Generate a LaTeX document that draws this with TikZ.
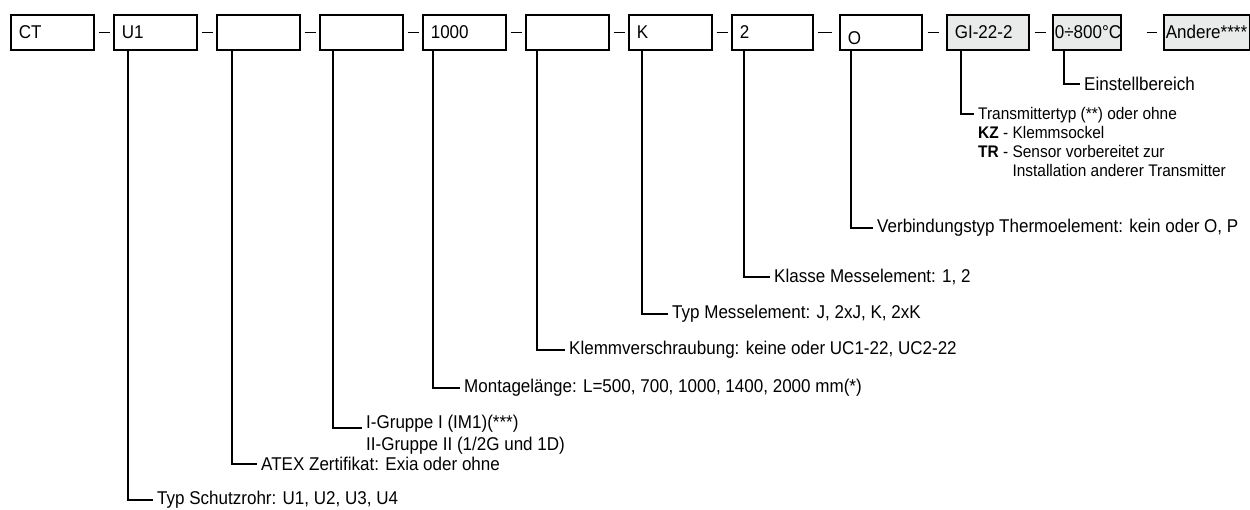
\documentclass[tikz,border=0pt]{standalone}
\usepackage{fontspec}
\setmainfont{Liberation Sans}[FakeStretch=0.92]
\usepackage{xcolor}
\usepackage{tikz}
\usetikzlibrary{positioning}
\definecolor{boxgrey}{RGB}{233,235,234}

\begin{document}
\begin{tikzpicture}[x=1pt,y=-1pt,
    codebox/.style={draw, line width=1.6pt, anchor=north west, minimum height=35pt, text width=67pt, inner xsep=8pt, inner ysep=0pt, align=left, font=\fontsize{18.5}{20}\selectfont},
    greybox/.style={codebox, fill=boxgrey},
    lbl/.style={anchor=west, inner xsep=4pt, inner ysep=1pt, align=left, font=\fontsize{18.5}{22}\selectfont},
    smalllbl/.style={lbl, font=\fontsize{16.8}{19}\selectfont},
    lead/.style={line width=1.6pt}]
      \useasboundingbox (0,0) rectangle (1250,509);
      \node[codebox] (ct) at (10,14) {CT};
      \node[codebox] (u1) at (113,14) {U1};
      \node[codebox] (atex) at (216,14) {};
      \node[codebox] (gruppe) at (319,14) {};
      \node[codebox] (laenge) at (422,14) {1000};
      \node[codebox] (klemm) at (525,14) {};
      \node[codebox] (typ) at (628,14) {K};
      \node[codebox, text width=65pt] (klasse) at (731,14) {2};
      \node[codebox, text width=66pt] (verb) at (839,14) {\rule{0pt}{12pt}\smash{\raisebox{-6pt}{O}}};
      \node[greybox, text width=66pt] (trans) at (946,14) {GI-22-2};
      \node[greybox, text width=64pt, inner xsep=2pt] (bereich) at (1052,14) {0÷800°C};
      \node[greybox, text width=82pt, inner xsep=2pt] (andere) at (1163,14) {Andere****};
      \draw[lead, shorten <=4pt, shorten >=3pt] (ct) -- (u1);
      \draw[lead, shorten <=4pt, shorten >=3pt] (u1) -- (atex);
      \draw[lead, shorten <=4pt, shorten >=3pt] (atex) -- (gruppe);
      \draw[lead, shorten <=4pt, shorten >=3pt] (gruppe) -- (laenge);
      \draw[lead, shorten <=4pt, shorten >=3pt] (laenge) -- (klemm);
      \draw[lead, shorten <=4pt, shorten >=3pt] (klemm) -- (typ);
      \draw[lead, shorten <=4pt, shorten >=3pt] (typ) -- (klasse);
      \draw[lead, shorten <=4pt, shorten >=7pt] (klasse) -- (verb);
      \draw[lead, shorten <=5pt, shorten >=7pt] (verb) -- (trans);
      \draw[lead, shorten <=5pt, shorten >=6pt] (trans) -- (bereich);
      \draw[lead, shorten <=25pt, shorten >=6pt] (bereich) -- (andere);
      \node[lbl] (schutzlbl) at (153,500) {Typ Schutzrohr: U1, U2, U3, U4};
      \node[lbl] (atexlbl) at (257,464) {ATEX Zertifikat: Exia oder ohne};
      \node[lbl] (gruppelbl) at (362,435) {I-Gruppe I (IM1)(***)\\II-Gruppe II (1/2G und 1D)};
      \node[lbl] (laengelbl) at (460,388) {Montagelänge: L=500, 700, 1000, 1400, 2000 mm(*)};
      \node[lbl] (klemmlbl) at (565,350) {Klemmverschraubung: keine oder UC1-22, UC2-22};
      \node[lbl] (typlbl) at (668,314) {Typ Messelement: J, 2xJ, K, 2xK};
      \node[lbl] (klasselbl) at (770,277) {Klasse Messelement: 1, 2};
      \node[lbl] (verblbl) at (873,228) {Verbindungstyp Thermoelement: kein oder O, P};
      \node[smalllbl] (translbl) at (974,142) {Transmittertyp (**) oder ohne\\\textbf{KZ} - Klemmsockel\\\textbf{TR} - Sensor vorbereitet zur\\\hphantom{\textbf{TR} - }Installation anderer Transmitter};
      \node[lbl] (bereichlbl) at (1080,84) {Einstellbereich};
      \draw[lead] ([xshift=15pt]u1.south west) |- (schutzlbl.west);
      \draw[lead] ([xshift=16pt]atex.south west) |- (atexlbl.west);
      \draw[lead] ([xshift=14pt]gruppe.south west) |- ([yshift=7pt]gruppelbl.west);
      \draw[lead] ([xshift=11pt]laenge.south west) |- (laengelbl.west);
      \draw[lead] ([xshift=12pt]klemm.south west) |- (klemmlbl.west);
      \draw[lead] ([xshift=14pt]typ.south west) |- (typlbl.west);
      \draw[lead] ([xshift=13pt]klasse.south west) |- (klasselbl.west);
      \draw[lead] ([xshift=12pt]verb.south west) |- (verblbl.west);
      \draw[lead] ([xshift=15pt]trans.south west) |- ([yshift=28pt]translbl.west);
      \draw[lead] ([xshift=12pt]bereich.south west) |- (bereichlbl.west);
    \end{tikzpicture}
\end{document}
